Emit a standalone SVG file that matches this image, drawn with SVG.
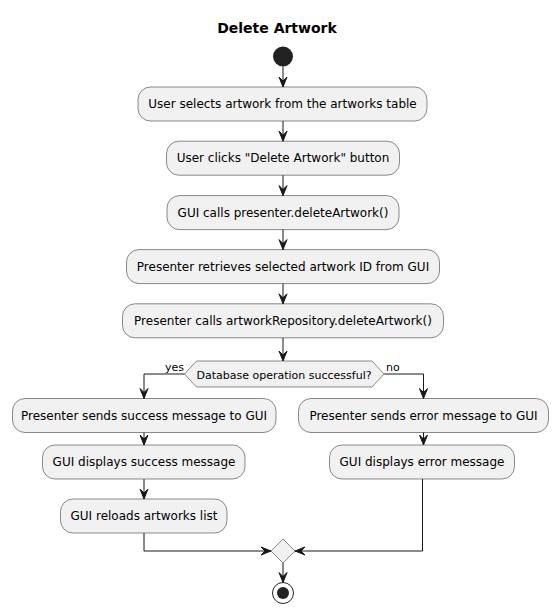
<svg xmlns="http://www.w3.org/2000/svg" width="556" height="615" viewBox="0 0 556 615">
<style>
.box{fill:#F1F1F1;stroke:#181818;stroke-width:0.5}
.t{font-family:"DejaVu Sans","Liberation Sans",sans-serif;font-size:12px;fill:#000;text-anchor:middle}
.s{font-family:"DejaVu Sans","Liberation Sans",sans-serif;font-size:11px;fill:#000}
.ln{fill:none;stroke:#181818;stroke-width:1}
.ah{fill:#181818;stroke:#181818;stroke-width:1}
</style>
<rect width="556" height="615" fill="#FFFFFF"/>
<text x="277" y="33" font-family="'DejaVu Sans','Liberation Sans',sans-serif" font-size="14" font-weight="bold" text-anchor="middle">Delete Artwork</text>
<g id="start"><circle cx="283" cy="56.5" r="10" fill="#222222"/></g>
<g id="n1"><rect class="box" x="138" y="87" width="289" height="34" rx="12.5"/><text class="t" x="282.5" y="108">User selects artwork from the artworks table</text></g>
<g id="n2"><rect class="box" x="166.5" y="141.2" width="233" height="34" rx="12.5"/><text class="t" x="283" y="162.2">User clicks "Delete Artwork" button</text></g>
<g id="n3"><rect class="box" x="167" y="195.6" width="232" height="34" rx="12.5"/><text class="t" x="283" y="216.6">GUI calls presenter.deleteArtwork()</text></g>
<g id="n4"><rect class="box" x="126.5" y="249.6" width="313" height="34" rx="12.5"/><text class="t" x="283" y="270.6">Presenter retrieves selected artwork ID from GUI</text></g>
<g id="n5"><rect class="box" x="122.5" y="303.8" width="321" height="34" rx="12.5"/><text class="t" x="283" y="324.8">Presenter calls artworkRepository.deleteArtwork()</text></g>
<g id="decision"><polygon class="box" points="184.5,374 196.5,361 372,361 384,374 372,387 196.5,387"/><text class="s" x="284" y="378.5" text-anchor="middle">Database operation successful?</text></g>
<g id="l1"><rect class="box" x="12.5" y="398.5" width="263.5" height="34" rx="12.5"/><text class="t" x="144" y="419.5">Presenter sends success message to GUI</text></g>
<g id="l2"><rect class="box" x="42.5" y="445" width="202.5" height="34" rx="12.5"/><text class="t" x="144" y="466">GUI displays success message</text></g>
<g id="l3"><rect class="box" x="60.5" y="499" width="166.5" height="34" rx="12.5"/><text class="t" x="144" y="520">GUI reloads artworks list</text></g>
<g id="r1"><rect class="box" x="298.5" y="398.5" width="250" height="34" rx="12.5"/><text class="t" x="423.5" y="419.5">Presenter sends error message to GUI</text></g>
<g id="r2"><rect class="box" x="329.5" y="445" width="185" height="34" rx="12.5"/><text class="t" x="422" y="466">GUI displays error message</text></g>
<g id="merge"><polygon class="box" points="283,539 295,551 283,563 271,551"/></g>
<g id="end"><circle cx="283" cy="593" r="10.5" fill="none" stroke="#222222" stroke-width="1"/><circle cx="283" cy="593" r="6" fill="#222222"/></g>
<g id="connectors">
<path class="ln" d="M283,66.5 V87"/><polygon class="ah" points="279,77 283,87 287,77 283,81"/>
<path class="ln" d="M283,121 V141.2"/><polygon class="ah" points="279,131.2 283,141.2 287,131.2 283,135.2"/>
<path class="ln" d="M283,175.2 V195.6"/><polygon class="ah" points="279,185.6 283,195.6 287,185.6 283,189.6"/>
<path class="ln" d="M283,229.6 V249.6"/><polygon class="ah" points="279,239.6 283,249.6 287,239.6 283,243.6"/>
<path class="ln" d="M283,283.6 V303.8"/><polygon class="ah" points="279,293.8 283,303.8 287,293.8 283,297.8"/>
<path class="ln" d="M283,337.8 V361"/><polygon class="ah" points="279,351 283,361 287,351 283,355"/>
<path class="ln" d="M184.5,374 H144 V398.5"/><polygon class="ah" points="140,388.5 144,398.5 148,388.5 144,392.5"/>
<text class="s" x="165" y="370.5">yes</text>
<path class="ln" d="M384,374 H423.5 V398.5"/><polygon class="ah" points="419.5,388.5 423.5,398.5 427.5,388.5 423.5,392.5"/>
<text class="s" x="386" y="370.5">no</text>
<path class="ln" d="M144,432.5 V445"/><polygon class="ah" points="140,435 144,445 148,435 144,439"/>
<path class="ln" d="M144,479 V499"/><polygon class="ah" points="140,489 144,499 148,489 144,493"/>
<path class="ln" d="M144,533 V551 H271"/><polygon class="ah" points="261,547 271,551 261,555 265,551"/>
<path class="ln" d="M423.5,432.5 V445"/><polygon class="ah" points="419.5,435 423.5,445 427.5,435 423.5,439"/>
<path class="ln" d="M422.5,479 V551 H295"/><polygon class="ah" points="305,547 295,551 305,555 301,551"/>
<path class="ln" d="M283,563 V582.5"/><polygon class="ah" points="279,572.5 283,582.5 287,572.5 283,576.5"/>
</g>
</svg>
